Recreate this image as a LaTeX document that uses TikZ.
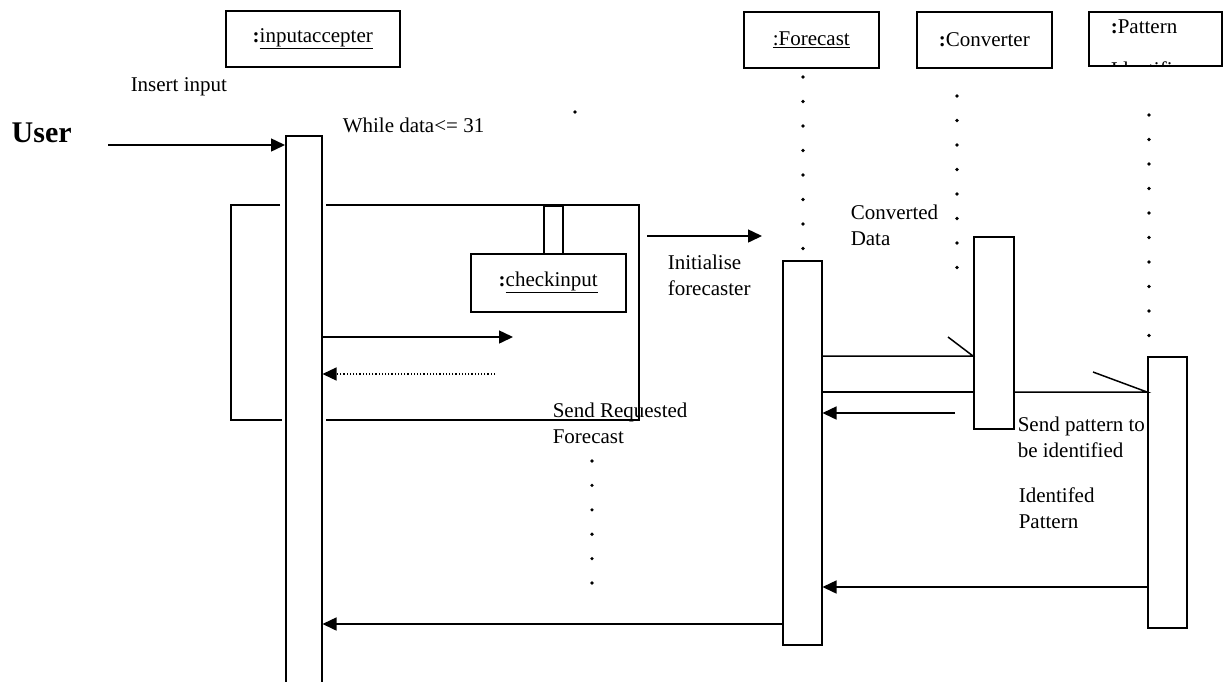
\documentclass[tikz,border=0pt]{standalone}
\usepackage{fontspec}
\setmainfont{Liberation Serif}
\usetikzlibrary{arrows.meta}

\begin{document}
\begin{tikzpicture}
    [ x=1pt, y=-1pt
    , line width=1.5pt
    , every node/.style={font=\fontsize{21}{26}\selectfont, inner sep=0pt}
    , obj/.style={draw, anchor=north west, minimum height=56pt, minimum width=#1}
    , act/.style={draw, fill=white, anchor=north west, minimum width=37pt, minimum height=#1}
    , msg/.style={-{Triangle[length=14pt,width=13pt]}}
    , lbl/.style={anchor=west, align=left}
    ]
\useasboundingbox (0,0) rectangle (1223,681);

% objects
\node[obj=174pt] (inputaccepter) at (225,10) {\textbf{:}\underline{inputaccepter}};
\node[obj=135pt] (forecast) at (743,11) {\underline{:Forecast}};
\node[obj=135pt] (converter) at (916,11) {\textbf{:}Converter};
\node[obj=133pt,minimum height=54pt] (pattern) at (1088,11) {};
\begin{scope}
\clip (pattern.north west) rectangle (pattern.south east);
\node[anchor=base west] (patternname) at (1110,33) {\textbf{:}Pattern};
\node[anchor=base west] (patternname2) at (1110,76) {Identifier};
\end{scope}

% lifelines
\foreach \i in {0,...,7} \fill (803,77+24.5*\i) circle (1.8pt);
\foreach \i in {0,...,7} \fill (957,96+24.5*\i) circle (1.8pt);
\foreach \i in {0,...,9} \fill (1149,115+24.5*\i) circle (1.8pt);
\foreach \i in {0,...,5} \fill (592,461+24.4*\i) circle (1.8pt);
\fill (575,112) circle (1.8pt);

% loop frame
\draw (280,205) -| (231,420) -- (282,420);
\draw (326,205) -| (639,420) -- (326,420);

% activations
\node[act=550pt,minimum width=36pt] (iaact) at (285,135) {};
\node[act=384pt,minimum width=39pt] (fcact) at (782,260) {};
\node[act=192pt,minimum width=40pt] (cvact) at (973,236) {};
\node[act=271pt,minimum width=39pt] (ptact) at (1147,356) {};
\node[act=48pt,minimum width=19pt] (chkstub) at (543,205) {};
\node[obj=155pt,minimum height=58pt] (checkinput) at (470,253) {\textbf{:}\underline{checkinput}};

% messages
\coordinate (userin) at (108,145);
\coordinate (chk) at (513,337);
\coordinate (chkret) at (495,374);
\coordinate (init0) at (647,236);
\coordinate (init1) at (762,236);
\coordinate (tocv) at (0,356);
\coordinate (topt) at (0,392);
\coordinate (cvret) at (955,413);
\coordinate (ptret) at (0,587);
\coordinate (fcret) at (0,624);

\draw[msg] (userin) -- (userin -| iaact.west);
\draw[msg] (iaact.east |- chk) -- (chk);
\draw[msg, dotted, line width=1.2pt] (chkret) -- (chkret -| iaact.east);
\draw[msg] (init0) -- (init1);
\draw (fcact.east |- tocv) -- (cvact.west |- tocv) -- ++(-25,-19);
\draw (fcact.east |- topt) -- (cvact.west |- topt);
\draw (cvact.east |- topt) -- (ptact.west |- topt) -- ++(-54,-20);
\draw[msg] (cvret) -- (cvret -| fcact.east);
\draw[msg] (ptact.west |- ptret) -- (fcact.east |- ptret);
\draw[msg] (fcact.west |- fcret) -- (iaact.east |- fcret);

% labels
\node[lbl, font=\fontsize{30}{34}\selectfont\bfseries] (user) at (11,133) {User};
\node[lbl] (insert) at (130,87) {Insert input};
\node[lbl] (while) at (342,125) {While data<= 31};
\node[lbl] (initlbl) at (667,275) {Initialise\\forecaster};
\node[lbl] (convlbl) at (850,225) {Converted\\Data};
\node[lbl] (sendlbl) at (552,423) {Send Requested\\Forecast};
\node[lbl] (patlbl) at (1017,437) {Send pattern to\\be identified};
\node[lbl] (idlbl) at (1018,508) {Identifed\\Pattern};
\end{tikzpicture}
\end{document}
